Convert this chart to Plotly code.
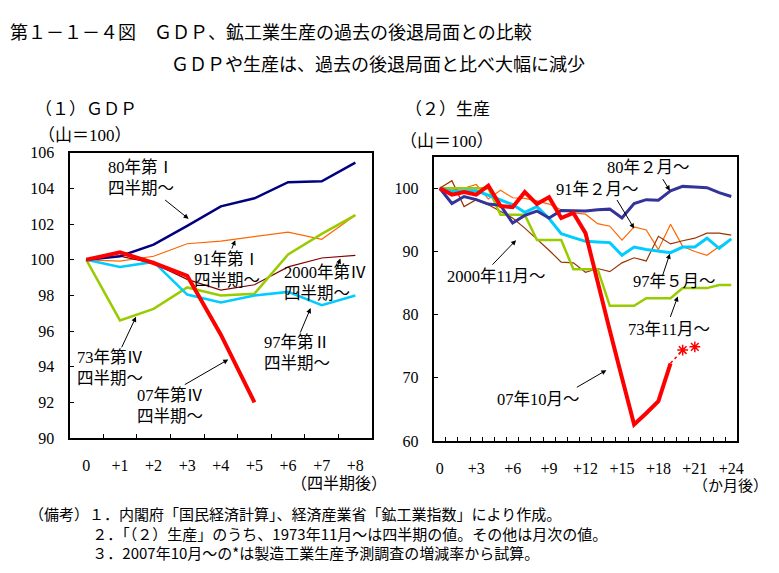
import plotly.graph_objects as go

W, H = 779, 573
OFF = 8  # page body margin of the html page

# ---------------- data: (1) GDP, quarters after peak ----------------
gdp_q = [0, 1, 2, 3, 4, 5, 6, 7, 8]
gdp_q_labels = ["0", "+1", "+2", "+3", "+4", "+5", "+6", "+7", "+8"]
gdp_80 = [100, 100.2, 100.85, 101.9, 103.0, 103.45, 104.35, 104.4, 105.45]
gdp_91 = [100, 99.93, 100.2, 100.9, 101.05, 101.3, 101.55, 101.15, 102.5]
gdp_73 = [100, 96.6, 97.25, 98.45, 98.0, 98.1, 100.3, 101.45, 102.5]
gdp_97 = [100, 99.6, 99.88, 98.05, 97.6, 98.0, 98.2, 97.45, 98.0]
gdp_00 = [100, 100.2, 99.8, 98.9, 98.3, 98.6, 99.6, 100.1, 100.25]
gdp_07 = [100, 100.42, 99.82, 99.1, 95.8, 92.0]

# ---------------- data: (2) production, months after peak ----------------
prod_m = list(range(25))
prod_tickvals = [0, 3, 6, 9, 12, 15, 18, 21, 24]
prod_ticklabels = ["0", "+3", "+6", "+9", "+12", "+15", "+18", "+21", "+24"]
prod_80 = [100, 97.6, 98.7, 98.2, 97.5, 97.3, 94.5, 95.7, 96.4, 95.3, 96.5, 96.5, 96.4,
           96.6, 96.7, 95.3, 97.6, 98.2, 98.1, 99.6, 100.3, 100.2, 100.1, 99.3, 98.7]
prod_91 = [100, 99.7, 100.0, 100.6, 98.3, 99.7, 98.5, 98.4, 98.0, 97.5, 96.6, 96.1, 95.9,
           94.4, 94.0, 91.8, 93.9, 93.4, 90.3, 94.3, 90.8, 90.0, 89.4, 90.8, 91.9]
prod_97 = [100, 99.5, 99.6, 99.6, 98.9, 98.2, 97.4, 96.2, 97.1, 95.2, 92.8, 92.2, 91.6,
           91.5, 91.4, 89.4, 90.7, 90.3, 90.1, 89.8, 90.7, 90.7, 92.1, 90.5, 92.0]
prod_73 = [100, 100, 100, 100, 100, 95.8, 95.8, 95.8, 91.8, 91.8, 91.8, 87.2, 87.2,
           87.2, 81.4, 81.4, 81.4, 82.6, 82.6, 82.6, 84.2, 84.2, 84.2, 84.7, 84.7]
prod_00 = [100, 101.2, 97.1, 98.2, 97.4, 96.3, 95.3, 93.7, 92.0, 90.2, 88.3, 88.2, 86.7,
           87.3, 86.8, 88.2, 89.0, 88.5, 92.4, 91.2, 91.7, 92.1, 92.9, 92.9, 92.6]
prod_07 = [100, 99.0, 99.4, 99.0, 100.4, 97.2, 97.0, 99.4, 97.5, 98.6, 95.3, 96.1, 92.9,
           85.0, 77.5, 70.0, 62.6, 64.4, 66.3, 72.3]
prod_07_link_m = [19, 20]
prod_07_link = [72.3, 74.4]
prod_07_est_m = [20, 21]
prod_07_est = [74.4, 74.9]

notes_lines = [
    "（備考）１．内閣府「国民経済計算」、経済産業省「鉱工業指数」により作成。",
    "　　　　 ２．「（２）生産」のうち、1973年11月～は四半期の値。その他は月次の値。",
    "　　　　 ３．2007年10月～の*は製造工業生産予測調査の増減率から試算。",
]

# ---------------- helpers ----------------
def px(x):
    return (x - OFF) / W

def py(y):
    return 1 - (y - OFF) / H

SERIF = "Liberation Serif, Noto Sans CJK JP, serif"
SANS = "Noto Sans CJK JP"

fig = go.Figure()

def line(x, y, color, width, xa, ya, dash="solid"):
    fig.add_trace(go.Scatter(x=x, y=y, mode="lines", xaxis=xa, yaxis=ya,
                             line=dict(color=color, width=width, dash=dash),
                             showlegend=False, hoverinfo="skip"))

# left panel
line(gdp_q, gdp_91, "#ff6600", 1.2, "x", "y")
line(gdp_q, gdp_00, "#800000", 1.2, "x", "y")
line(gdp_q, gdp_73, "#99cc00", 2.5, "x", "y")
line(gdp_q, gdp_97, "#00ccff", 2.5, "x", "y")
line(gdp_q, gdp_80, "#000080", 2.5, "x", "y")
line(gdp_q[:len(gdp_07)], gdp_07, "#ff0000", 4, "x", "y")

# right panel
line(prod_m, prod_91, "#ff6600", 1.2, "x2", "y2")
line(prod_m, prod_00, "#993300", 1.2, "x2", "y2")
line(prod_m, prod_73, "#99cc00", 2.5, "x2", "y2")
line(prod_m, prod_97, "#00ccff", 3, "x2", "y2")
line(prod_m, prod_80, "#333399", 3, "x2", "y2")
line(prod_m[:len(prod_07)], prod_07, "#ff0000", 4, "x2", "y2")
line(prod_07_link_m, prod_07_link, "#ff0000", 1.5, "x2", "y2", dash="dot")
fig.add_trace(go.Scatter(x=prod_07_est_m, y=prod_07_est, mode="markers",
                         xaxis="x2", yaxis="y2",
                         marker=dict(symbol="asterisk-open", size=9, color="#ff0000",
                                     line=dict(color="#ff0000", width=1.5)),
                         showlegend=False, hoverinfo="skip"))

axis_common = dict(showline=True, linecolor="black", linewidth=2, mirror=True,
                   showgrid=False, zeroline=False,
                   tickfont=dict(family=SERIF, size=16, color="black"))

fig.update_layout(
    width=W, height=H, margin=dict(l=0, r=0, t=0, b=0),
    paper_bgcolor="white", plot_bgcolor="white", showlegend=False,
    xaxis=dict(domain=[px(70), px(375)], anchor="y", range=[-0.5, 8.5],
               tickmode="array", tickvals=gdp_q, ticktext=gdp_q_labels,
               ticks="", ticklabelstandoff=12,
               minor=dict(tick0=0.5, dtick=1, ticks="inside", ticklen=4,
                          tickcolor="black", tickwidth=1),
               **axis_common),
    yaxis=dict(domain=[py(443), py(149)], anchor="x", range=[90, 106],
               tickmode="array", tickvals=[90, 92, 94, 96, 98, 100, 102, 104, 106],
               ticks="inside", ticklen=4, tickcolor="black", ticklabelstandoff=10,
               **axis_common),
    xaxis2=dict(domain=[px(437), px(743)], anchor="y2", range=[-0.5, 24.5],
                tickmode="array", tickvals=prod_tickvals, ticktext=prod_ticklabels,
                ticks="", ticklabelstandoff=12,
                minor=dict(tick0=0.5, dtick=1, ticks="inside", ticklen=4,
                           tickcolor="black", tickwidth=1),
                **axis_common),
    yaxis2=dict(domain=[py(446), py(153)], anchor="x2", range=[60, 105],
                tickmode="array", tickvals=[60, 70, 80, 90, 100],
                ticks="inside", ticklen=4, tickcolor="black", ticklabelstandoff=10,
                **axis_common),
)

anns = []

def text(t, x, y, size=16.5, family=SERIF, xanchor="left", yanchor="middle"):
    anns.append(dict(text=t, x=px(x), y=py(y), xref="paper", yref="paper",
                     xanchor=xanchor, yanchor=yanchor, showarrow=False,
                     align="left", font=dict(family=family, size=size, color="black")))

def arrow(xt, yt, xh, yh):
    anns.append(dict(text="", x=px(xh), y=py(yh), xref="paper", yref="paper",
                     ax=xt - xh, ay=yt - yh, axref="pixel", ayref="pixel",
                     showarrow=True, arrowhead=2, arrowsize=1, arrowwidth=1,
                     arrowcolor="black"))

# titles
text("第１－１－４図　ＧＤＰ、鉱工業生産の過去の後退局面との比較", 8, 23, size=18, family=SANS)
text("ＧＤＰや生産は、過去の後退局面と比べ大幅に減少", 170, 56, size=18, family=SANS)
text("（１）ＧＤＰ", 33, 102, size=17, family=SANS)
text("（山＝100）", 36, 131, size=17, family=SERIF)
text("（２）生産", 406, 102, size=17, family=SANS)
text("（山＝100）", 401, 137, size=17, family=SERIF)
text("（四半期後）", 392, 490, size=16, family=SERIF, xanchor="right")
text("（か月後）", 776, 492, size=15, family=SERIF, xanchor="right")

# left panel labels
text("80年第Ⅰ<br>四半期～", 107, 175)
text("91年第Ⅰ<br>四半期～", 193, 270)
text("2000年第Ⅳ<br>四半期～", 284, 283)
text("73年第Ⅳ<br>四半期～", 76, 371)
text("07年第Ⅳ<br>四半期～", 136, 410)
text("97年第Ⅱ<br>四半期～", 264, 355)
arrow(165, 197, 190, 217)
arrow(233, 249, 237, 239)
arrow(338, 271, 343, 258)
arrow(122, 350, 137, 318)
arrow(185, 388, 230, 362)
arrow(302, 335, 313, 309)

# right panel labels
text("80年２月～", 610, 164)
text("91年２月～", 558, 187)
text("2000年11月～", 448, 276)
text("97年５月～", 636, 282)
text("73年11月～", 631, 331)
text("07年10月～", 499, 403)
arrow(667, 175, 675, 188)
arrow(621, 197, 639, 227)
arrow(495, 265, 520, 239)
arrow(667, 277, 675, 253)
arrow(675, 319, 683, 297)
arrow(580, 391, 611, 373)

# notes (one block, three lines)
text("<br>".join(notes_lines), 27, 541, size=15, family=SANS)

fig.update_layout(annotations=anns)

fig.write_html("out.html")
